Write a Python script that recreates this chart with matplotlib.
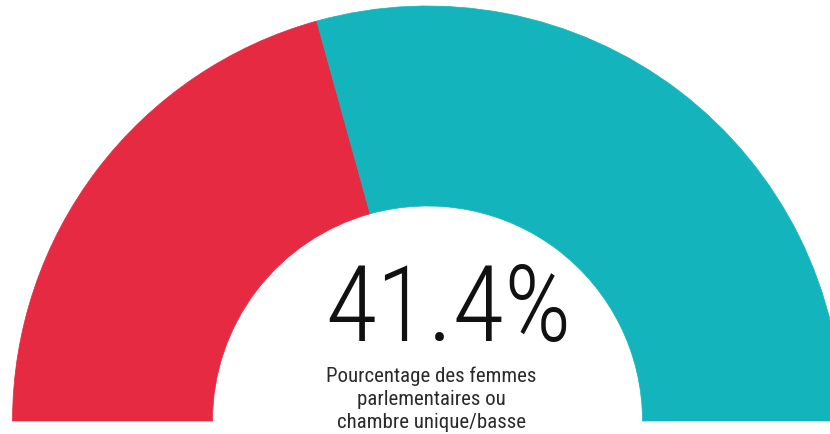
import matplotlib
matplotlib.use("Agg")
import matplotlib.pyplot as plt
from matplotlib.patches import Wedge
from matplotlib import font_manager

# gauge data
shares = [41.4, 58.6]                     # women / others (%)
colors = ["#E52A42", "#13B4BC"]
big_label = "41.4%"
sub_label = ["Pourcentage des femmes", "parlementaires ou", "chambre unique/basse"]

have = {f.name for f in font_manager.fontManager.ttflist}
def pick(*names):
    for n in names:
        if n in have:
            return [n, "DejaVu Sans"]
    return ["DejaVu Sans"]

big_font = pick("Roboto Condensed", "Liberation Sans Narrow", "Roboto")
sub_font = pick("Roboto Condensed", "Liberation Sans Narrow", "Roboto")

W, H = 830, 435
cx, cy = 427.5, H - 422          # gauge centre (pixel space, y up)
r_out, r_in = 415, 215

fig = plt.figure(figsize=(W / 100, H / 100), dpi=100)
ax = fig.add_axes([0, 0, 1, 1])
ax.set_xlim(0, W); ax.set_ylim(0, H)
ax.axis("off")

# draw from the left (180 deg) going clockwise
start = 180.0
for val, col in zip(shares, colors):
    span = val / sum(shares) * 180.0
    ax.add_patch(Wedge((cx, cy), r_out, start - span, start, width=r_out - r_in,
                       facecolor=col, edgecolor=col, lw=0.5))
    start -= span

ax.text(448, H - 341, big_label, ha="center", va="baseline", fontsize=76,
        family=big_font, fontweight="light", color="#111111")
for i, line in enumerate(sub_label):
    ax.text(431, H - (382 + 23 * i), line, ha="center", va="baseline", fontsize=15,
            family=sub_font, color="#2a2a2a")

fig.savefig("out.png", dpi=100)
